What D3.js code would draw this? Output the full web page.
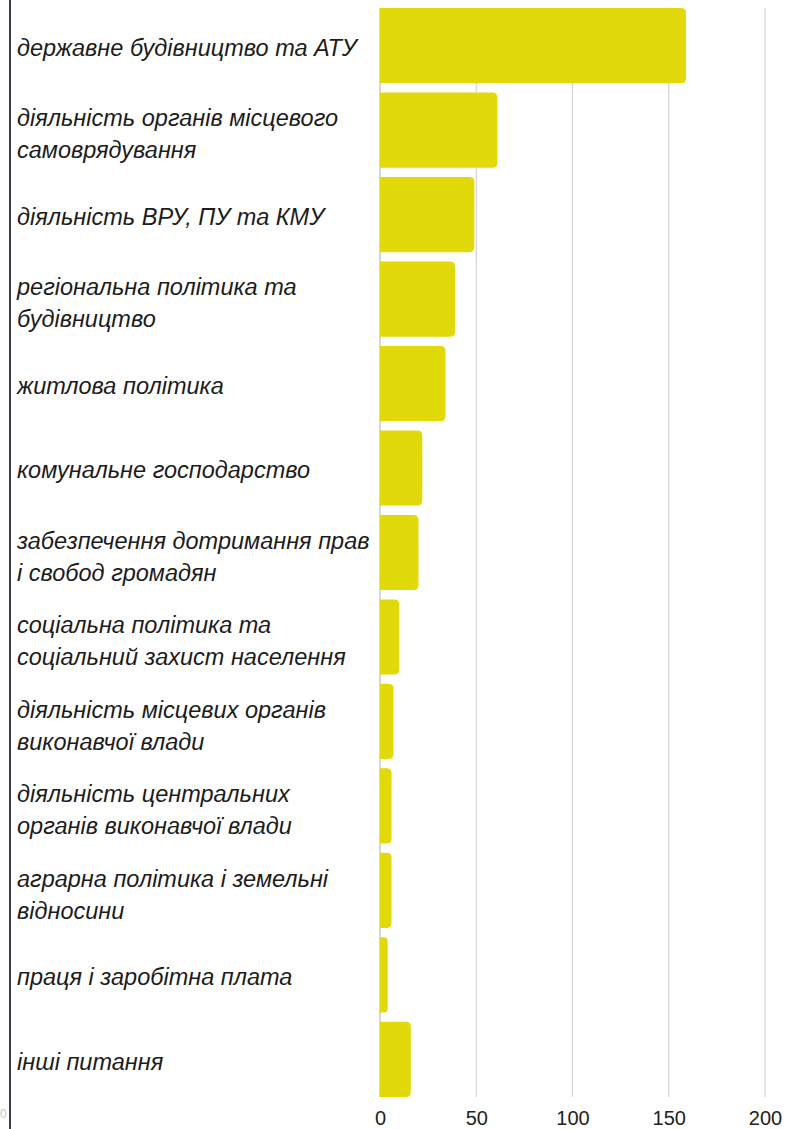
<!DOCTYPE html>
<html>
<head>
<meta charset="utf-8">
<script src="https://cdn.jsdelivr.net/npm/d3@7"></script>
<style>
  html, body { margin: 0; padding: 0; background: #ffffff; }
  svg { display: block; }
</style>
</head>
<body>
<script>
// ---- data ----
const categories = [
  "державне будівництво та АТУ",
  "діяльність органів місцевого\nсамоврядування",
  "діяльність ВРУ, ПУ та КМУ",
  "регіональна політика та\nбудівництво",
  "житлова політика",
  "комунальне господарство",
  "забезпечення дотримання прав\nі свобод громадян",
  "соціальна політика та\nсоціальний захист населення",
  "діяльність місцевих органів\nвиконавчої влади",
  "діяльність центральних\nорганів виконавчої влади",
  "аграрна політика і земельні\nвідносини",
  "праця і заробітна плата",
  "інші питання"
];
const values = [159, 61, 49, 39, 34, 22, 20, 10, 7, 6, 6, 4, 16];
const xTicks = [0, 50, 100, 150, 200];

// ---- layout ----
const W = 785, H = 1129;
const plotLeft = 380, plotRight = 765, plotTop = 8, plotBottom = 1097;
const barColor = "#e2d90b";

const svg = d3.select("body").append("svg")
  .attr("width", W).attr("height", H);

const x = d3.scaleLinear().domain([0, 200]).range([plotLeft, plotRight]);
const y = d3.scaleBand().domain(categories).range([plotTop, plotBottom])
  .paddingInner(0.11).paddingOuter(0);

// gridlines
svg.append("g").selectAll("line").data(xTicks).join("line")
  .attr("x1", d => x(d)).attr("x2", d => x(d))
  .attr("y1", plotTop).attr("y2", plotBottom)
  .attr("stroke", d => d === 0 ? "#b9bccb" : "#d4d4d8")
  .attr("stroke-width", 1.2);

// x axis tick labels
const axis = d3.axisBottom(x).tickValues(xTicks).tickSize(0).tickPadding(0);
const gAx = svg.append("g").attr("transform", `translate(0, ${plotBottom})`).call(axis);
gAx.select(".domain").remove();
gAx.selectAll("text")
  .attr("y", 22)
  .attr("dy", "0.32em")
  .attr("font-family", "'Liberation Sans', Arial, sans-serif")
  .attr("font-size", 20)
  .attr("fill", "#222");

// bars with rounded right corners
function barPath(x0, x1, y0, h, r) {
  const rr = Math.min(r, (x1 - x0) / 2, h / 2);
  return `M${x0},${y0}H${x1 - rr}Q${x1},${y0} ${x1},${y0 + rr}` +
         `V${y0 + h - rr}Q${x1},${y0 + h} ${x1 - rr},${y0 + h}H${x0}Z`;
}
svg.append("g").selectAll("path").data(categories).join("path")
  .attr("d", (c, i) => barPath(x(0), x(values[i]), y(c), y.bandwidth(), 5))
  .attr("fill", barColor);

// category labels
const lineH = 32;
const gl = svg.append("g")
  .attr("font-family", "'Liberation Sans', Arial, sans-serif")
  .attr("font-style", "italic")
  .attr("font-size", 23.5)
  .attr("fill", "#1c1c1c");
categories.forEach(c => {
  const lines = c.split("\n");
  const cy = y(c) + y.bandwidth() / 2 + (lines.length > 1 ? 4 : 2);
  const t = gl.append("text").attr("x", 17);
  lines.forEach((ln, k) => {
    t.append("tspan")
      .attr("x", 17)
      .attr("y", cy + (k - (lines.length - 1) / 2) * lineH)
      .attr("dy", "0.35em")
      .text(ln);
  });
});

// left border line
svg.append("line")
  .attr("x1", 10).attr("x2", 10).attr("y1", 0).attr("y2", H)
  .attr("stroke", "#3a3d50").attr("stroke-width", 2);

// small "0" at bottom left (mostly hidden in the reference)
svg.append("text")
  .attr("x", 0).attr("y", plotBottom + 17).attr("dy", "0.32em")
  .attr("font-family", "'Liberation Sans', Arial, sans-serif")
  .attr("font-size", 12).attr("fill", "#c8c8c8").text("0");
</script>
</body>
</html>
